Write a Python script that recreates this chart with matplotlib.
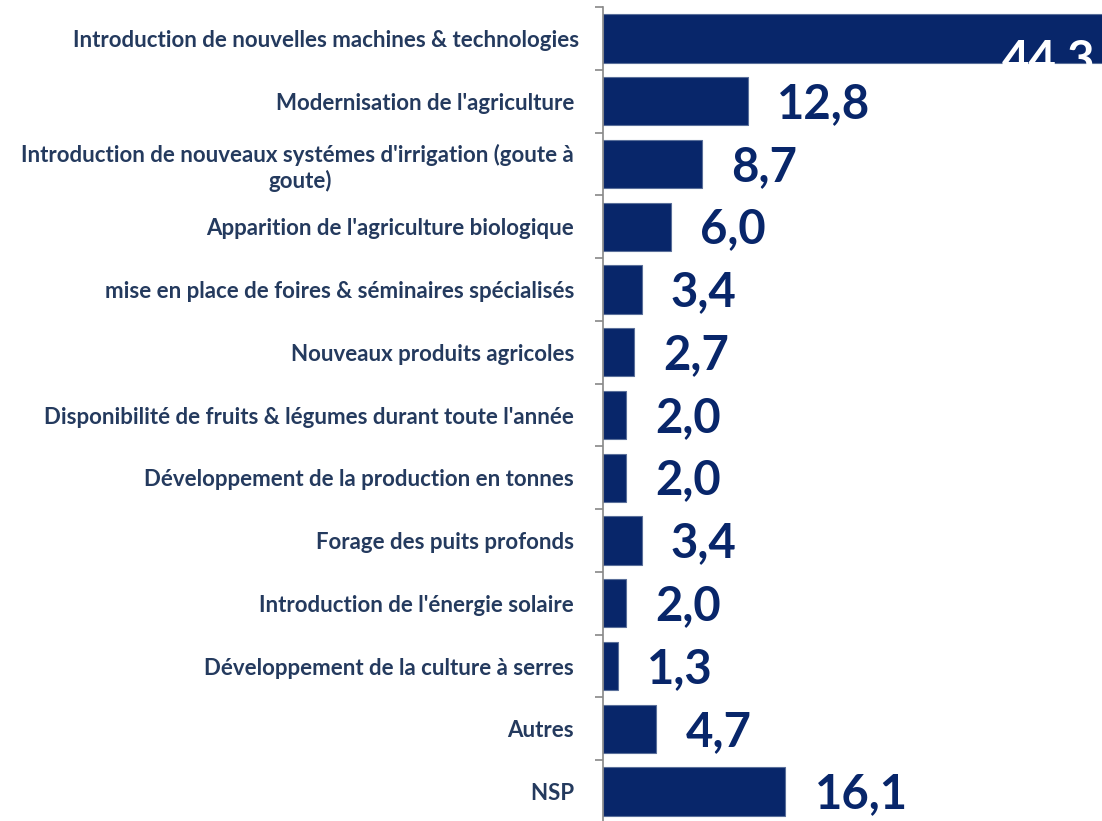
import matplotlib
matplotlib.use("Agg")
import matplotlib.pyplot as plt
from matplotlib.ticker import FixedLocator

categories = [
    "Introduction de nouvelles machines & technologies",
    "Modernisation de l'agriculture ",
    "Introduction de nouveaux systémes d'irrigation (goute à \ngoute)",
    "Apparition de l'agriculture biologique ",
    "mise en place de foires & séminaires spécialisés ",
    "Nouveaux produits agricoles ",
    "Disponibilité de fruits & légumes durant toute l'année ",
    "Développement de la production en tonnes ",
    "Forage des puits profonds ",
    "Introduction de l'énergie solaire ",
    "Développement de la culture à serres ",
    "Autres ",
    "NSP ",
]
values = [44.3, 12.8, 8.7, 6.0, 3.4, 2.7, 2.0, 2.0, 3.4, 2.0, 1.3, 4.7, 16.1]
value_labels = ["44.3", "12,8", "8,7", "6,0", "3,4", "2,7", "2,0", "2,0", "3,4", "2,0", "1,3", "4,7", "16,1"]

BAR = "#08266a"
TXT = "#243a5e"
FONT = "Lato"

W, H = 1102, 821
fig = plt.figure(figsize=(W / 100, H / 100), dpi=100)
left = 603 / W
top = 1 - 7 / H
bottom = (821 - 823) / H
ax = fig.add_axes([left, bottom, 1 - left, top - bottom])

y = list(range(len(categories)))
ax.barh(y, values, height=0.77, color=BAR, edgecolor="#5a6f9a", linewidth=0.8)
ax.set_xlim(0, 44.05)
ax.set_ylim(len(categories) - 0.5, -0.5)

ax.set_yticks(y)
ax.set_yticklabels(categories, fontfamily=FONT, fontweight="bold", fontsize=16,
                   color=TXT, multialignment="center")
ax.tick_params(axis="y", which="major", length=0, pad=17)
ax.yaxis.set_minor_locator(FixedLocator([i - 0.5 for i in range(len(categories) + 1)]))
ax.tick_params(axis="y", which="minor", length=6, color="#888888", width=1.2)
ax.set_xticks([])
for s in ["top", "right", "bottom"]:
    ax.spines[s].set_visible(False)
ax.spines["left"].set_color("#888888")
ax.spines["left"].set_linewidth(1.2)

for i, (v, lab) in enumerate(zip(values, value_labels)):
    if i == 0:
        ax.annotate(lab, xy=(v, i), xytext=(-7, -16), textcoords="offset points",
                    ha="right", va="center", color="white", fontfamily=FONT,
                    fontweight="bold", fontsize=34, annotation_clip=False)
    else:
        ax.annotate(lab, xy=(v, i), xytext=(21, -2), textcoords="offset points",
                    ha="left", va="center", color=BAR, fontfamily=FONT,
                    fontweight="bold", fontsize=34)

fig.savefig("out.png", dpi=100)
